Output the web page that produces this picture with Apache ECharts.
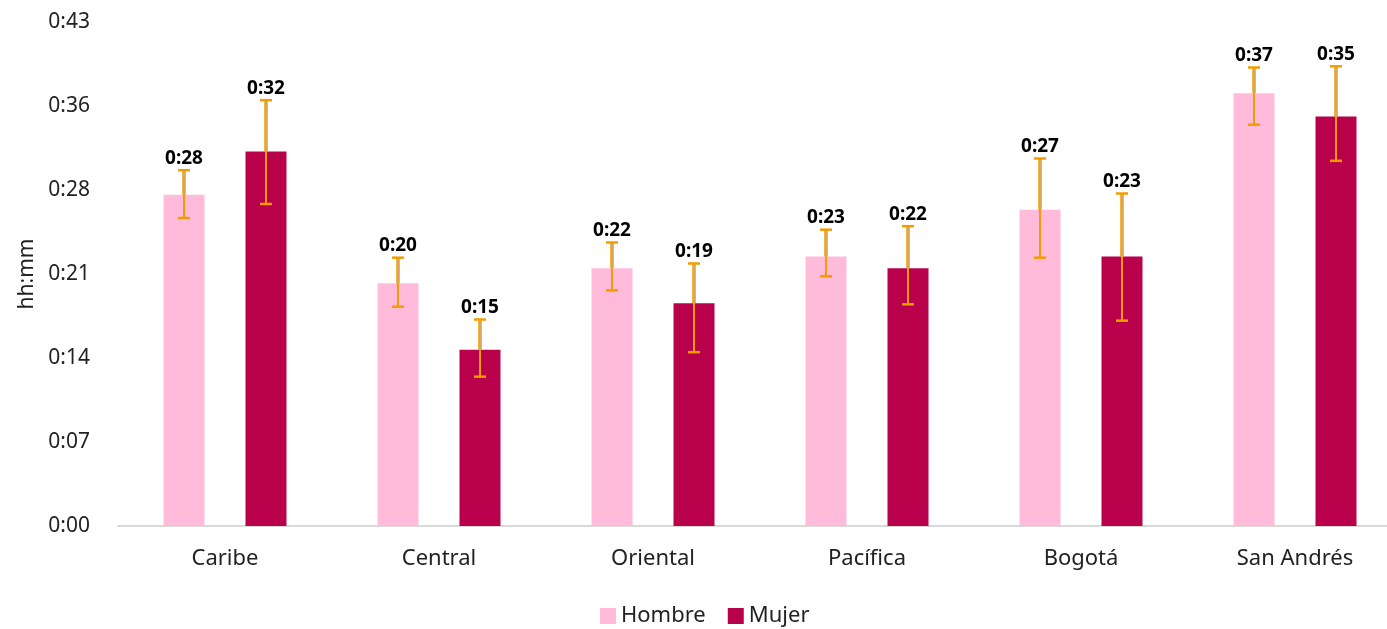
<!DOCTYPE html>
<html>
<head>
<meta charset="utf-8">
<script src="https://cdn.jsdelivr.net/npm/echarts@6/dist/echarts.min.js"></script>
<style>
  html, body { margin: 0; padding: 0; background: #fff; overflow: hidden; }
  #main { width: 1402px; height: 629px; }
</style>
</head>
<body>
<div id="main"></div>
<script>
// valores en minutos
var regiones = ['Caribe', 'Central', 'Oriental', 'Pacífica', 'Bogotá', 'San Andrés'];
var hombre = [28.4, 20.8, 22.1, 23.1, 27.1, 37.1];
var mujer = [32.1, 15.1, 19.1, 22.1, 23.1, 35.1];
var hombreBajo = [26.4, 18.8, 20.2, 21.4, 23.0, 34.4];
var hombreAlto = [30.5, 23.0, 24.3, 25.4, 31.5, 39.3];
var mujerBajo = [27.6, 12.8, 14.9, 19.0, 17.6, 31.3];
var mujerAlto = [36.5, 17.7, 22.5, 25.7, 28.5, 39.4];

var fuente = 'Noto Sans';
var anchoBarra = 41;

function hhmm(v) {
    var m = Math.floor(v + 1e-6);
    return '0:' + (m < 10 ? '0' + m : m);
}

function errorBars(valores, bajos, altos) {
    return regiones.map(function (r, i) {
        return [i, bajos[i], altos[i], valores[i]];
    });
}

function pintarError(desplazamiento) {
    return function (params, api) {
        var cat = api.value(0);
        var pBajo = api.coord([cat, api.value(1)]);
        var pAlto = api.coord([cat, api.value(2)]);
        var pVal = api.coord([cat, api.value(3)]);
        var x = pBajo[0] + desplazamiento;
        var naranja = '#f39c00';
        return {
            type: 'group',
            children: [
                { type: 'line', shape: { x1: x, y1: pBajo[1], x2: x, y2: pAlto[1] },
                  style: { stroke: naranja, lineWidth: 2 } },
                { type: 'line', shape: { x1: x, y1: pVal[1], x2: x, y2: pAlto[1] },
                  style: { stroke: naranja, lineWidth: 3.5 } },
                { type: 'line', shape: { x1: x, y1: pVal[1], x2: x, y2: pAlto[1] },
                  style: { stroke: '#c2b09a', lineWidth: 1.2 } },
                { type: 'line', shape: { x1: x - 6, y1: pBajo[1], x2: x + 6, y2: pBajo[1] },
                  style: { stroke: naranja, lineWidth: 2.5 } },
                { type: 'line', shape: { x1: x - 6, y1: pAlto[1], x2: x + 6, y2: pAlto[1] },
                  style: { stroke: naranja, lineWidth: 2.5 } },
                { type: 'text', x: x, y: pAlto[1] - 12,
                  style: { text: hhmm(api.value(3)), fill: '#000', font: 'bold 19px ' + fuente,
                           align: 'center', verticalAlign: 'middle' } }
            ]
        };
    };
}

var myChart = echarts.init(document.getElementById('main'));
myChart.setOption({
    animation: false,
    textStyle: { fontFamily: fuente },
    grid: { left: 118, right: 0, top: 22, bottom: 103 },
    legend: {
        data: ['Hombre', 'Mujer'],
        bottom: -3,
        left: 595,
        itemWidth: 16,
        itemHeight: 16,
        itemGap: 22,
        icon: 'rect',
        textStyle: { fontSize: 22, color: '#222', fontFamily: fuente }
    },
    xAxis: {
        type: 'category',
        data: regiones,
        axisLine: { lineStyle: { color: '#d9d9d9', width: 2 } },
        axisTick: { show: false },
        axisLabel: { fontSize: 22, color: '#222', margin: 22 }
    },
    yAxis: {
        type: 'value',
        min: 0,
        max: 43.2,
        interval: 7.2,
        name: 'hh:mm',
        nameLocation: 'middle',
        nameGap: 80,
        nameTextStyle: { fontSize: 21, color: '#222' },
        splitLine: { show: false },
        axisLine: { show: false },
        axisTick: { show: false },
        axisLabel: { fontSize: 21, color: '#222', margin: 28, formatter: hhmm }
    },
    series: [
        {
            name: 'Hombre',
            type: 'bar',
            data: hombre,
            barWidth: anchoBarra,
            barGap: '100%',
            itemStyle: { color: '#ffbbd9' }
        },
        {
            name: 'Mujer',
            type: 'bar',
            data: mujer,
            barWidth: anchoBarra,
            barGap: '100%',
            itemStyle: { color: '#b8004b' }
        },
        {
            name: 'errHombre',
            type: 'custom',
            data: errorBars(hombre, hombreBajo, hombreAlto),
            encode: { x: 0, y: [1, 2] },
            renderItem: pintarError(-anchoBarra),
            z: 5
        },
        {
            name: 'errMujer',
            type: 'custom',
            data: errorBars(mujer, mujerBajo, mujerAlto),
            encode: { x: 0, y: [1, 2] },
            renderItem: pintarError(anchoBarra),
            z: 5
        }
    ]
});
</script>
</body>
</html>
